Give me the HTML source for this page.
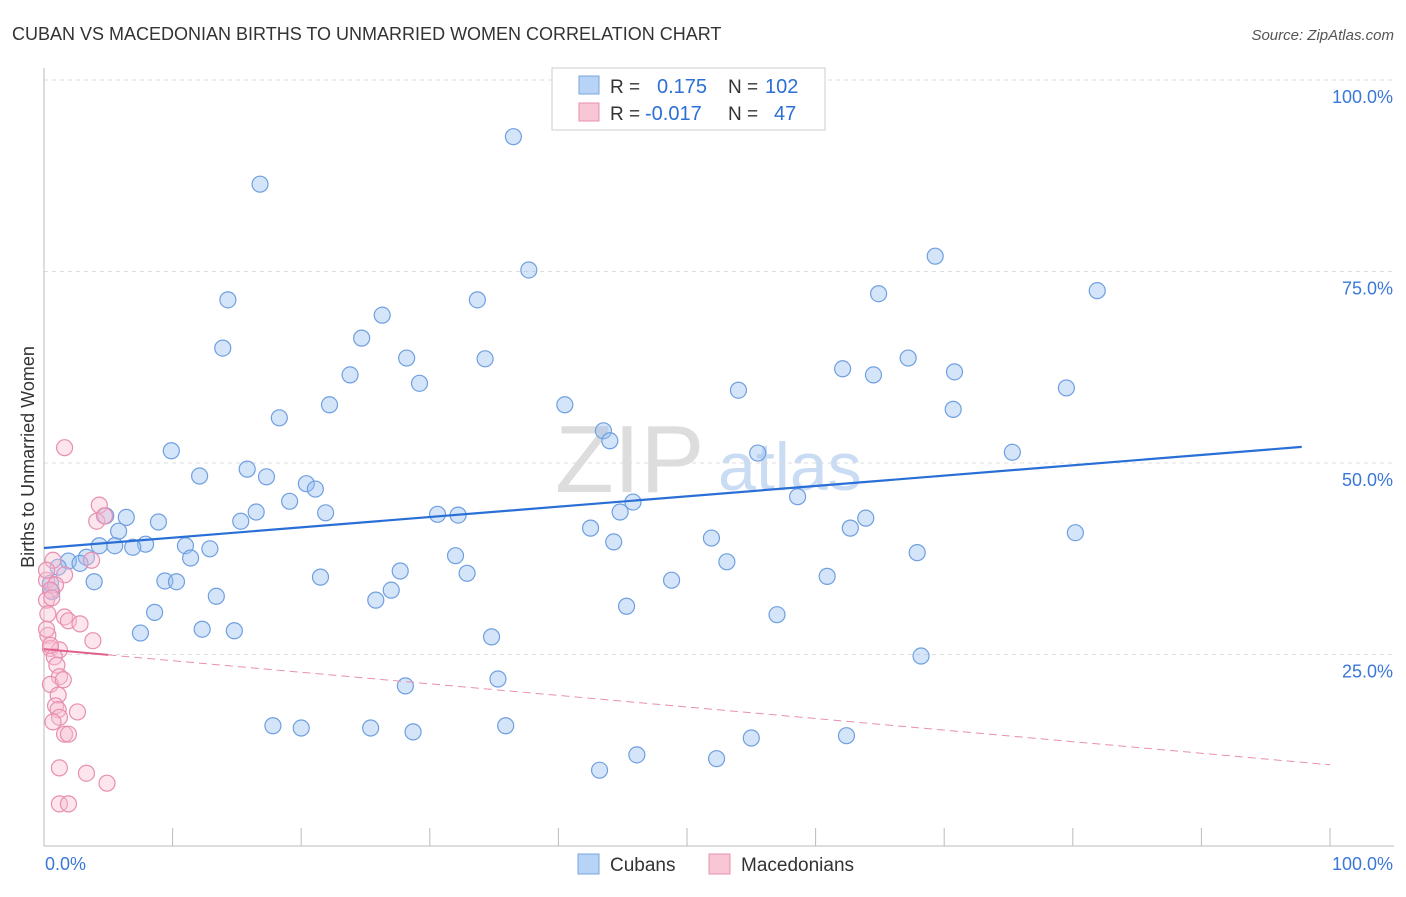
<!DOCTYPE html>
<html><head><meta charset="utf-8"><style>
body{margin:0;background:#fff;font-family:"Liberation Sans",sans-serif;}
svg text{font-family:"Liberation Sans",sans-serif;}
</style></head><body>
<svg width="1406" height="892" id="chart">
<text x="12" y="40" font-size="18" fill="#333">CUBAN VS MACEDONIAN BIRTHS TO UNMARRIED WOMEN CORRELATION CHART</text>
<text x="1394" y="40" font-size="15" fill="#555" text-anchor="end" font-style="italic">Source: ZipAtlas.com</text>
<text transform="translate(34,457) rotate(-90)" font-size="18" fill="#333" text-anchor="middle">Births to Unmarried Women</text>
<text x="555" y="492" font-size="96" fill="#ddd" font-family="Liberation Serif">ZIP</text>
<text x="718" y="490" font-size="68" fill="#c9dcf3">atlas</text>
<g id="grid"></g><g id="axes"></g><g id="marks"></g>
<g>
<rect x="552" y="68" width="273" height="62" fill="#fff" stroke="#ccc"/>
<rect x="579" y="76" width="20" height="18" fill="#b7d3f5" stroke="#7aa6e0"/>
<text x="610" y="93" font-size="19" fill="#333">R =</text><text x="657" y="93" font-size="20" fill="#2c6fd6">0.175</text>
<text x="728" y="93" font-size="19" fill="#333">N =</text><text x="765" y="93" font-size="20" fill="#2c6fd6">102</text>
<rect x="579" y="103" width="20" height="18" fill="#f8c6d5" stroke="#e890b0"/>
<text x="610" y="120" font-size="19" fill="#333">R =</text><text x="645" y="120" font-size="20" fill="#2c6fd6">-0.017</text>
<text x="728" y="120" font-size="19" fill="#333">N =</text><text x="774" y="120" font-size="20" fill="#2c6fd6">47</text>
</g>
<g>
<rect x="578" y="854" width="21" height="20" fill="#b7d3f5" stroke="#7aa6e0"/>
<text x="610" y="871" font-size="19" fill="#333">Cubans</text>
<rect x="709" y="854" width="21" height="20" fill="#f8c6d5" stroke="#e890b0"/>
<text x="741" y="871" font-size="19" fill="#333">Macedonians</text>
</g>
</svg>
<script>
const yTicks=[25,50,75,100];
const yTickLabels=["25.0%","50.0%","75.0%","100.0%"];
const cubanX=[36.5,16.8,37.7,69.3,14.3,33.7,64.9,81.9,26.3,24.7,13.9,28.2,34.3,67.2,23.8,29.2,62.1,64.5,70.8,54.0,79.5,22.2,40.5,18.3,70.7,43.5,44.0,9.9,55.5,75.3,15.8,17.3,12.1,20.4,21.1,19.1,45.8,58.6,44.8,16.5,15.3,21.9,30.6,32.2,8.9,6.4,4.8,63.9,62.7,80.2,42.5,51.9,44.3,5.8,4.3,7.9,6.9,5.5,11.0,12.9,11.4,67.9,32.0,3.3,1.9,2.8,1.1,53.1,27.7,32.9,21.5,48.8,60.9,9.4,10.3,3.9,0.5,0.6,27.0,13.4,25.8,45.3,8.6,57.0,7.5,12.3,14.8,34.8,68.2,28.1,35.3,17.8,20.0,25.4,28.7,35.9,55.0,62.4,46.1,43.2,52.3];
const cubanY=[92.6,86.4,75.2,77.0,71.3,71.3,72.1,72.5,69.3,66.3,65.0,63.7,63.6,63.7,61.5,60.4,62.3,61.5,61.9,59.5,59.8,57.6,57.6,55.9,57.0,54.2,52.9,51.6,51.3,51.4,49.2,48.2,48.3,47.3,46.6,45.0,44.9,45.6,43.6,43.6,42.4,43.5,43.3,43.2,42.3,42.9,43.1,42.8,41.5,40.9,41.5,40.2,39.7,41.1,39.2,39.4,39.0,39.2,39.2,38.8,37.6,38.3,37.9,37.7,37.2,36.9,36.4,37.1,35.9,35.6,35.1,34.7,35.2,34.6,34.5,34.5,34.3,33.2,33.4,32.6,32.1,31.3,30.5,30.2,27.8,28.3,28.1,27.3,24.8,20.9,21.8,15.7,15.4,15.4,14.9,15.7,14.1,14.4,11.9,9.9,11.4];
const macX=[1.6,4.3,4.1,4.7,3.7,0.7,1.6,0.2,0.9,0.5,0.2,1.6,0.3,1.9,2.8,0.3,3.8,0.5,1.2,0.8,1.0,1.2,0.5,1.5,1.1,0.9,1.1,2.6,1.2,0.7,1.6,1.9,1.2,3.3,4.9,1.2,1.9,0.6,0.2,0.5,0.2];
const macY=[52.0,44.5,42.4,43.1,37.3,37.3,35.4,34.7,34.1,33.4,32.1,29.9,30.3,29.4,29.0,27.5,26.8,25.8,25.6,24.7,23.6,22.1,21.1,21.7,19.7,18.3,17.8,17.5,16.8,16.2,14.6,14.6,10.2,9.5,8.2,5.5,5.5,32.4,28.3,26.2,36.0];
const cubanTrend=[38.9,52.4];
const macTrend=[25.7,10.6];
const X0=44,X1=1330,Y0=846,Y1=80;
const sx=v=>X0+(X1-X0)*v/100, sy=v=>Y0-(Y0-Y1)*v/100;
const NS="http://www.w3.org/2000/svg";
function mk(t,a,p){const e=document.createElementNS(NS,t);for(const k in a)e.setAttribute(k,a[k]);p.appendChild(e);return e;}
const grid=document.getElementById('grid'),axes=document.getElementById('axes'),marks=document.getElementById('marks');
yTicks.forEach((t,i)=>{
 const l=mk('line',{x1:X0,x2:1394,y1:sy(t),y2:sy(t),stroke:'#ddd','stroke-dasharray':'4,4'},grid);
 
 
 const tx=mk('text',{x:1393,y:sy(t)+23,'font-size':18,fill:'#3a78d8','text-anchor':'end'},axes);tx.textContent=yTickLabels[i];
 
 
});
const xa=mk('line',{x1:X0,x2:1394,y1:Y0,y2:Y0,stroke:'#bbb'},axes);


const ya=mk('line',{x1:X0,x2:X0,y1:68,y2:Y0,stroke:'#bbb'},axes);


for(let i=1;i<=10;i++){const t=mk('line',{x1:sx(i*10),x2:sx(i*10),y1:Y0-18,y2:Y0,stroke:'#bbb'},axes);
 
 }
[["0.0%",X0+1,'start'],["100.0%",1393,'end']].forEach(([s,x,a])=>{const t=mk('text',{x:x,y:870,'font-size':18,fill:'#3a78d8','text-anchor':a},axes);t.textContent=s;
 
 });
cubanX.forEach((x,i)=>{const c=mk('circle',{cx:sx(x),cy:sy(cubanY[i]),r:8,fill:'rgba(150,190,240,0.4)',stroke:'#6f9fe0','stroke-width':1.2},marks);
 
 });
macX.forEach((x,i)=>{const c=mk('circle',{cx:sx(x),cy:sy(macY[i]),r:8,fill:'rgba(248,190,210,0.4)',stroke:'#e88fb0','stroke-width':1.2},marks);
 
 });
const bt=mk('line',{x1:sx(0),y1:sy(cubanTrend[0]),x2:sx(97.8),y2:sy(cubanTrend[0]+(cubanTrend[1]-cubanTrend[0])*0.978),stroke:'#2a6fd6','stroke-width':2.2},marks);


const f=v=>macTrend[0]+(macTrend[1]-macTrend[0])*v/100;
const pd=mk('line',{x1:sx(5),y1:sy(f(5)),x2:sx(100),y2:sy(f(100)),stroke:'#e88fb0','stroke-width':1,'stroke-dasharray':'8,5'},marks);


const ps=mk('line',{x1:sx(0),y1:sy(f(0)),x2:sx(5),y2:sy(f(5)),stroke:'#e0608e','stroke-width':2},marks);


</script>
</body></html>
